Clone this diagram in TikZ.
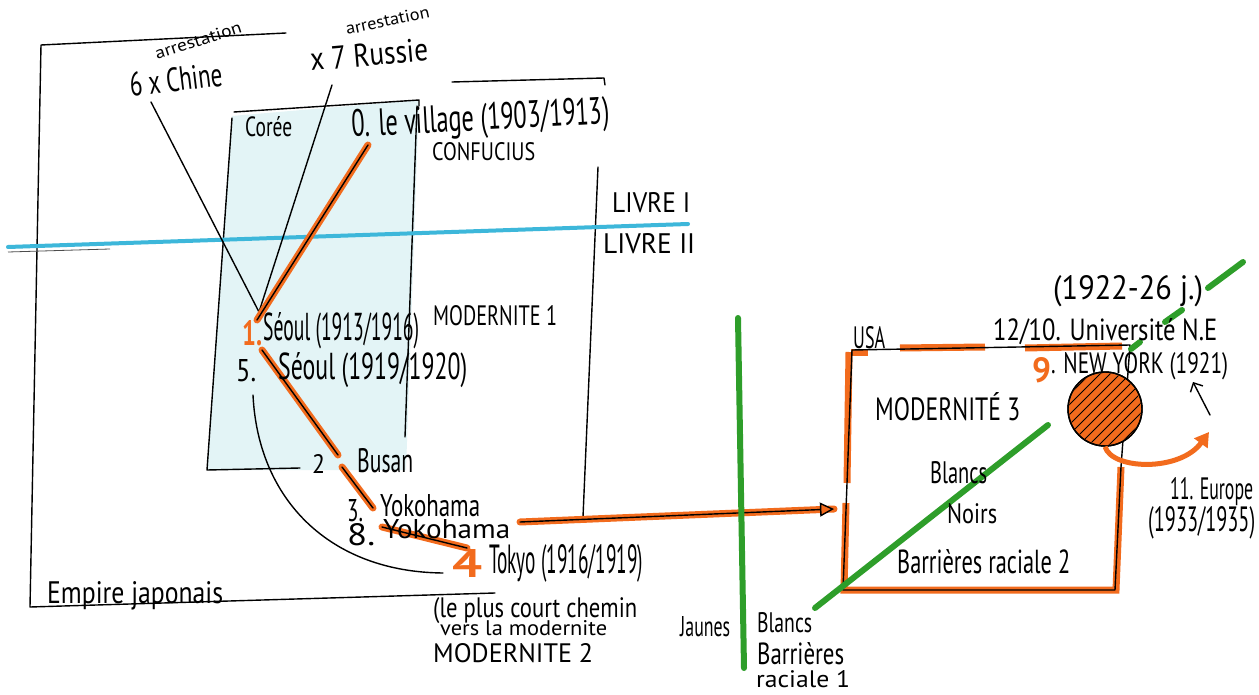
\documentclass[tikz,border=0pt]{standalone}
\usepackage{fontspec}
\setmainfont{PT Sans}
\usepackage{graphicx}
\usetikzlibrary{arrows.meta,calc}
\definecolor{orgC}{HTML}{F26B1D}
\definecolor{grnC}{HTML}{2E9E2A}
\definecolor{bluC}{HTML}{3DB7DA}
\definecolor{cyaC}{HTML}{E3F4F6}
% width, height above baseline, text
\newcommand\fw[3]{\resizebox{#1pt}{#2pt}{#3}}
\tikzset{
 txt/.style={anchor=base west, inner sep=0pt, font=\fontsize{20}{22}\selectfont},
 onum/.style={anchor=base west, inner sep=0pt, text=orgC, font=\bfseries\fontsize{30}{30}\selectfont},
 ink/.style={line width=1.4pt, black, line cap=round, line join=round},
 orl/.style={line width=7pt, orgC, line cap=round},
 grl/.style={line width=6pt, grnC, line cap=round},
}
\begin{document}
\begin{tikzpicture}[x=1pt,y=-1pt]
\useasboundingbox (0,0) rectangle (1259,695);
\fill[white] (0,0) rectangle (1259,695);
% Coree fill
\fill[cyaC] (232,116) -- (419,100) -- (406,470) -- (207,470) -- cycle;
% boxes
\draw[ink] (286,33) -- (41,45) -- (30,607) -- (495,593);
\draw[ink] (234,112) -- (419,100) -- (419,106);
\draw[ink] (232,118) -- (207,470) -- (300,468);
\draw[ink] (417,106) -- (405,437);
\draw[ink] (452,82) -- (604,78) -- (605,85);
\draw[ink] (598,167) -- (583,517);
% blue line
\draw[line width=4pt, bluC, line cap=round] (8,247) -- (688,224);
\draw[line width=0.8pt, black!70] (8,252) -- (110,249);
% coordinates
\coordinate (chineE) at (151,102);
\coordinate (russieE) at (332,85);
\coordinate (seoulP) at (259,312);
\coordinate (villP) at (368,145);
\coordinate (seoulQ) at (257,320);
\coordinate (s5) at (262,350);
\coordinate (bus1) at (338,455);
\coordinate (bus2) at (342,467);
\coordinate (yok1) at (373,508);
\coordinate (yok2) at (382,527);
\coordinate (tok) at (467,548);
\coordinate (curS) at (253,395);
\coordinate (curE) at (443,573);
\coordinate (arrS) at (520,522);
\coordinate (arrE) at (834,509);
\coordinate (gv1) at (738,318);
\coordinate (gv2) at (744,668);
% texts
\node[txt, rotate=18] (arr1) at (157,60) {\fw{90}{12}{arrestation}};
\node[txt, rotate=7] (chine) at (131,97) {\fw{93}{24}{6 x Chine}};
\node[txt, rotate=12] (arr2) at (347,35) {\fw{85}{12}{arrestation}};
\node[txt, rotate=5] (russie) at (311,71) {\fw{118}{23}{x 7 Russie}};
\node[txt] (coree) at (245,137) {\fw{47}{20}{Corée}};
\node[txt, rotate=3] (village) at (352,137) {\fw{258}{27}{0. le village (1903/1913)}};
\node[txt] (conf) at (432,161) {\fw{103}{18}{CONFUCIUS}};
\node[txt] (livre1) at (612,213) {\fw{78}{20}{LIVRE I}};
\node[txt] (livre2) at (603,254) {\fw{92}{20}{LIVRE II}};
% path lines
\draw[ink] (chineE) -- (seoulP);
\draw[ink] (russieE) -- (seoulP);
\draw[orl] (villP) -- (seoulQ);
\draw[ink] (villP) -- (seoulQ);
\draw[orl] (s5) -- (bus1);
\draw[ink] (s5) -- (bus1);
\draw[orl] (bus2) -- (yok1);
\draw[ink] (bus2) -- (yok1);
\draw[orl] (yok2) -- (tok);
\draw[ink] (yok2) -- (tok);
\draw[ink] (curS) .. controls (258,500) and (330,572) .. (curE);
\node[onum] (n1) at (242,345) {\fw{20}{25}{1.}};
\node[txt] (seoul1) at (263,341) {\fw{156}{28}{Séoul (1913/1916)}};
\node[txt] (mod1) at (433,325) {\fw{124}{20}{MODERNITE 1}};
\node[txt] (n5) at (236,381) {\fw{20}{22}{5.}};
\node[txt] (seoul5) at (278,379) {\fw{189}{27}{Séoul (1919/1920)}};
\node[txt] (n2) at (312,473) {\fw{13}{19}{2}};
\node[txt] (busan) at (357,472) {\fw{56}{24}{Busan}};
\node[txt] (n3) at (347,521) {\fw{16}{22}{3.}};
\node[txt] (yoko1) at (380,516) {\fw{100}{22}{Yokohama}};
\node[txt] (n8) at (347,545) {\fw{28}{22}{8.}};
\node[txt] (yoko2) at (383,538) {\fw{127}{19}{Yokohama}};
\node[onum] (n4) at (452,577) {\fw{30}{28}{4}};
\node[txt] (tokyo) at (489,573) {\fw{154}{29}{Tokyo (1916/1919)}};
\node[txt] (plus) at (433,617) {\fw{204}{20}{(le plus court chemin}};
\node[txt] (vers) at (440,635) {\fw{167}{15}{vers la modernite}};
\node[txt] (mod2) at (433,662) {\fw{160}{19}{MODERNITE 2}};
\node[txt] (empire) at (47,603) {\fw{176}{22}{Empire japonais}};
% arrow to USA
\draw[orl] (arrS) -- (arrE);
\draw[ink, -{Triangle[length=14pt,width=14pt,fill=orgC]}] (arrS) -- (arrE);
% green vertical
\draw[grl] (gv1) -- (gv2);
\node[txt] (jaunes) at (680,636) {\fw{50}{20}{Jaunes}};
\node[txt] (blancs1) at (757,632) {\fw{55}{20}{Blancs}};
\node[txt] (barr1) at (757,664) {\fw{87}{22}{Barrières}};
\node[txt] (rac1) at (756,687) {\fw{94}{17}{raciale 1}};
% USA box
\coordinate (u1) at (852,350);
\coordinate (u2) at (1130,345);
\coordinate (u3) at (1121,467);
\coordinate (u4) at (1115,590);
\coordinate (u5) at (843,590);
\draw[orl, line cap=butt] (849,352) -- (847,483);
\draw[orl, line cap=butt] (846,503) -- (844,590) -- (1116,590) -- (1121,467);
\draw[orl, line cap=butt] (900,348) -- (985,347);
\draw[orl, line cap=butt] (1025,348) -- (1122,346);
\draw[orl, line cap=butt] (851,352) -- (868,352);
\draw[ink] (u1) -- (u2) -- (u3) -- (u4) -- (u5) -- cycle;
% green diagonal
\draw[grl] (815,608) -- (1048,425);
\draw[grl] (1131,349) -- (1140,342);
\draw[grl] (1165,322) -- (1182,310);
\draw[grl] (1208,288) -- (1243,262);
% circle
\node[draw, ink, circle, minimum size=74pt, fill=orgC] (ny) at (1105,409) {};
\begin{scope}
\clip (ny.center) circle (36pt);
\foreach \k in {-90,-80,...,90}
  \draw[line width=0.9pt, black] ($(1105,409)+(\k-50,50)$) -- ($(1105,409)+(\k+50,-50)$);
\end{scope}
\draw[ink] (ny.center) circle (37pt);
\draw[line width=5pt, orgC, -{Triangle[length=14pt,width=16pt]}] (ny.south) .. controls (1112,470) and (1180,472) .. (1209,432);
\coordinate (eu) at (1210,415);
\coordinate (eutop) at (1193,382);
\draw[ink, -{Straight Barb[length=7pt]}] (eu) -- (eutop);
% USA texts
\node[txt] (usa) at (853,348) {\fw{32}{22}{USA}};
\node[txt] (univ) at (993,340) {\fw{224}{22}{12/10. Université N.E}};
\node[txt] (yrs) at (1053,300) {\fw{150}{24}{(1922-26 j.)}};
\node[onum] (n9) at (1032,382) {\fw{19}{25}{9}};
\node[txt] (nyk) at (1051,373) {\fw{177}{21}{. NEW YORK (1921)}};
\node[txt] (mod3) at (875,420) {\fw{145}{28}{MODERNITÉ 3}};
\node[txt] (blancs2) at (930,483) {\fw{57}{22}{Blancs}};
\node[txt] (noirs) at (947,523) {\fw{50}{20}{Noirs}};
\node[txt] (barr2) at (897,573) {\fw{173}{24}{Barrières raciale 2}};
\node[txt] (europe) at (1170,499) {\fw{83}{22}{11. Europe}};
\node[txt] (eudate) at (1148,531) {\fw{107}{25}{(1933/1935)}};
\end{tikzpicture}
\end{document}
